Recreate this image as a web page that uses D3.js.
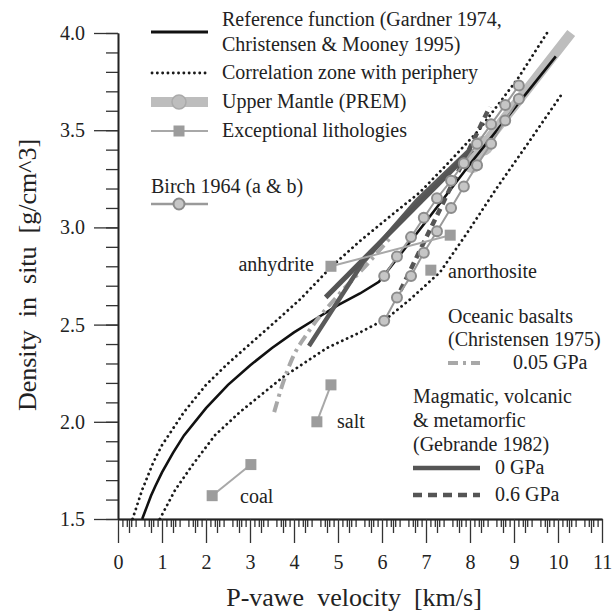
<!DOCTYPE html>
<html>
<head>
<meta charset="utf-8">
<script src="https://cdn.jsdelivr.net/npm/d3@7"></script>
<style>
  body { margin: 0; background: #fff; }
  svg text { font-family: "Liberation Serif", "Times New Roman", "DejaVu Serif", serif; fill: #222; }
</style>
</head>
<body>
<div id="chart"></div>
<script>
// reference function (Gardner 1974 / Christensen & Mooney 1995)
const refV = [0.55, 0.65, 0.75, 0.85, 1, 1.25, 1.5, 2, 2.5, 3, 3.5, 4, 4.5, 5, 5.5, 5.93, 7, 8.05, 9.95];
const refD = [1.5, 1.56, 1.62, 1.67, 1.74, 1.84, 1.93, 2.07, 2.19, 2.29, 2.38, 2.46, 2.53, 2.6, 2.66, 2.72, 3.03, 3.34, 3.88];

// correlation zone, upper and lower limit
const upV = [0.33, 0.55, 0.8, 1.0, 1.5, 2, 2.5, 3, 3.5, 4.14, 4.86, 5.5, 6.2, 6.86, 7.5, 8.2, 9.1, 9.75];
const upD = [1.5, 1.65, 1.79, 1.88, 2.05, 2.19, 2.3, 2.4, 2.5, 2.63, 2.8, 2.93, 3.06, 3.18, 3.33, 3.5, 3.77, 4.0];
const loV = [0.95, 1.3, 1.7, 2.2, 2.77, 3.75, 4.75, 5.5, 6.1, 6.64, 7.32, 7.93, 8.6, 9.34, 10.1];
const loD = [1.5, 1.65, 1.78, 1.93, 2.05, 2.23, 2.38, 2.46, 2.53, 2.63, 2.77, 2.97, 3.2, 3.44, 3.69];

// upper mantle PREM
const premV = [8.05, 8.3, 10.3];
const premD = [3.33, 3.42, 4.0];
const premMarks = [0, 1];

// Birch 1964 (a & b)
const birchAV = [6.05, 6.34, 6.66, 6.95, 7.25, 7.57, 7.86, 8.16, 8.48, 8.8, 9.11];
const birchAD = [2.75, 2.85, 2.95, 3.05, 3.15, 3.24, 3.33, 3.43, 3.53, 3.63, 3.73];
const birchBV = [6.05, 6.34, 6.66, 6.95, 7.25, 7.57, 7.86, 8.16, 8.48, 8.8, 9.11];
const birchBD = [2.52, 2.64, 2.75, 2.87, 2.98, 3.1, 3.21, 3.32, 3.43, 3.55, 3.66];

// exceptional lithologies
const lithNames = ["anhydrite", "anorthosite", "salt", "coal"];
const lithV = [[4.84, 7.55], [7.11], [4.52, 4.84], [2.14, 3.02]];
const lithD = [[2.80, 2.96], [2.78], [2.0, 2.19], [1.62, 1.78]];

// oceanic basalts (Christensen 1975), 0.05 GPa
const ocV = [3.55, 3.75, 3.95, 4.35, 5.0, 5.7, 6.2];
const ocD = [2.05, 2.2, 2.32, 2.47, 2.65, 2.82, 2.95];

// Gebrande 1982
const geb0aV = [4.72, 8.05];
const geb0aD = [2.64, 3.40];
const geb0bV = [4.34, 5.57, 6.8, 8.0];
const geb0bD = [2.39, 2.82, 3.14, 3.40];
const geb6V = [6.3, 8.45];
const geb6D = [2.62, 3.62];

const xMajor = d3.range(0, 12);
const yMajor = [1.5, 2.0, 2.5, 3.0, 3.5, 4.0];

const svg = d3.select("#chart").append("svg").attr("width", 616).attr("height", 615);

const x = d3.scaleLinear().domain([0, 11]).range([118, 602]);
const y = d3.scaleLinear().domain([1.5, 4.0]).range([519, 33]);

const line = d3.line().x(d => x(d[0])).y(d => y(d[1]));
const zip = (a, b) => a.map((v, i) => [v, b[i]]);

// axes
const xMinor = d3.range(0, 111).map(d => d / 10).filter(d => Math.abs(d * 2 - Math.round(d * 2)) > 1e-6);
const xHalf = d3.range(0, 22).map(d => d + 0.5).map(d => d / 2).filter(d => d <= 11 && d % 1 !== 0);
svg.append("g").attr("transform", "translate(0,519)")
  .call(d3.axisBottom(x).tickValues(xMinor).tickSize(8).tickSizeOuter(0).tickFormat(""));
svg.append("g").attr("transform", "translate(0,519)")
  .call(d3.axisBottom(x).tickValues(xHalf).tickSize(14).tickSizeOuter(0).tickFormat(""));
const gx = svg.append("g").attr("transform", "translate(0,519)")
  .call(d3.axisBottom(x).tickValues(xMajor).tickSize(24).tickSizeOuter(0).tickPadding(12).tickFormat(d3.format("d")));

const yMinor = d3.range(15, 41).map(d => d / 10);
svg.append("g").attr("transform", "translate(118,0)")
  .call(d3.axisLeft(y).tickValues(yMinor).tickSize(12).tickSizeOuter(0).tickFormat(""));
const gy = svg.append("g").attr("transform", "translate(118,0)")
  .call(d3.axisLeft(y).tickValues(yMajor).tickSize(24).tickSizeOuter(0).tickPadding(9).tickFormat(d3.format(".1f")));

svg.selectAll(".domain").attr("stroke", "#222").attr("stroke-width", 1.6);
svg.selectAll(".tick line").attr("stroke", "#333").attr("stroke-width", 1.3);
gx.selectAll("text").attr("font-size", 20).attr("fill", "#222");
gy.selectAll("text").attr("font-size", 20).attr("fill", "#222");

svg.append("text").attr("x", 354).attr("y", 606).attr("text-anchor", "middle")
  .attr("font-size", 26).attr("xml:space", "preserve").text("P-vawe  velocity  [km/s]");
svg.append("text").attr("transform", "translate(36,275) rotate(-90)").attr("text-anchor", "middle")
  .attr("font-size", 26).attr("xml:space", "preserve").text("Density  in  situ  [g/cm^3]");

// correlation zone (dotted)
const dotted = g => g.attr("fill", "none").attr("stroke", "#1a1a1a").attr("stroke-width", 2.8)
  .attr("stroke-dasharray", "0.1 5.2").attr("stroke-linecap", "round");
svg.append("path").attr("d", line(zip(upV, upD))).call(dotted);
svg.append("path").attr("d", line(zip(loV, loD))).call(dotted);

// PREM
svg.append("path").attr("d", line(zip(premV, premD)))
  .attr("fill", "none").attr("stroke", "#bdbdbd").attr("stroke-width", 10).attr("stroke-linecap", "butt");
svg.selectAll(".prem").data(premMarks).enter().append("circle")
  .attr("cx", i => x(premV[i])).attr("cy", i => y(premD[i])).attr("r", 10).attr("fill", "#bdbdbd");

// reference function
svg.append("path").attr("d", line(zip(refV, refD)))
  .attr("fill", "none").attr("stroke", "#111").attr("stroke-width", 2.6);

// oceanic basalts
svg.append("path").attr("d", d3.line().curve(d3.curveMonotoneX).x(d => x(d[0])).y(d => y(d[1]))(zip(ocV, ocD)))
  .attr("fill", "none").attr("stroke", "#a8a8a8").attr("stroke-width", 4).attr("stroke-dasharray", "11 5 3 5");

// Gebrande
svg.append("path").attr("d", line(zip(geb0bV, geb0bD)))
  .attr("fill", "none").attr("stroke", "#5a5a5a").attr("stroke-width", 4.5);
svg.append("path").attr("d", line(zip(geb0aV, geb0aD)))
  .attr("fill", "none").attr("stroke", "#555").attr("stroke-width", 5);
svg.append("path").attr("d", line(zip(geb6V, geb6D)))
  .attr("fill", "none").attr("stroke", "#555").attr("stroke-width", 4.5).attr("stroke-dasharray", "7 5");

// Birch
[[birchAV, birchAD], [birchBV, birchBD]].forEach(([vs, ds]) => {
  const pts = zip(vs, ds);
  svg.append("path").attr("d", line(pts)).attr("fill", "none").attr("stroke", "#9a9a9a").attr("stroke-width", 2);
  svg.append("g").selectAll("circle").data(pts).enter().append("circle")
    .attr("cx", d => x(d[0])).attr("cy", d => y(d[1])).attr("r", 5)
    .attr("fill", "#c6c6c6").attr("stroke", "#8c8c8c").attr("stroke-width", 2);
});

// exceptional lithologies
lithNames.forEach((n, i) => {
  const pts = zip(lithV[i], lithD[i]);
  if (pts.length > 1)
    svg.append("path").attr("d", line(pts)).attr("fill", "none").attr("stroke", "#a8a8a8").attr("stroke-width", 2);
  svg.append("g").selectAll("rect").data(pts).enter().append("rect")
    .attr("x", d => x(d[0]) - 5.5).attr("y", d => y(d[1]) - 5.5).attr("width", 11).attr("height", 11)
    .attr("fill", "#9c9c9c");
});
const lithLabels = [
  { t: "anhydrite", x: 314, y: 271, a: "end" },
  { t: "anorthosite", x: 448, y: 278, a: "start" },
  { t: "salt", x: 337, y: 428, a: "start" },
  { t: "coal", x: 240, y: 503, a: "start" }
];
svg.selectAll(".lith").data(lithLabels).enter().append("text")
  .attr("x", d => d.x).attr("y", d => d.y).attr("text-anchor", d => d.a).attr("font-size", 20).text(d => d.t);

// legend, top-left
const fs = 20;
const lg = svg.append("g");
lg.append("line").attr("x1", 151).attr("x2", 208).attr("y1", 32).attr("y2", 32).attr("stroke", "#111").attr("stroke-width", 3);
lg.append("text").attr("x", 222).attr("y", 26).attr("font-size", fs).text("Reference function (Gardner 1974,");
lg.append("text").attr("x", 222).attr("y", 51).attr("font-size", fs).text("Christensen & Mooney 1995)");
lg.append("line").attr("x1", 152).attr("x2", 208).attr("y1", 73).attr("y2", 73).call(dotted);
lg.append("text").attr("x", 222).attr("y", 79).attr("font-size", fs).text("Correlation zone with periphery");
lg.append("line").attr("x1", 151).attr("x2", 208).attr("y1", 102).attr("y2", 102).attr("stroke", "#bdbdbd").attr("stroke-width", 10);
lg.append("circle").attr("cx", 179).attr("cy", 102).attr("r", 7).attr("fill", "#bdbdbd").attr("stroke", "#aaa").attr("stroke-width", 1.5);
lg.append("text").attr("x", 222).attr("y", 108).attr("font-size", fs).text("Upper Mantle (PREM)");
lg.append("line").attr("x1", 151).attr("x2", 208).attr("y1", 131).attr("y2", 131).attr("stroke", "#a8a8a8").attr("stroke-width", 2);
lg.append("rect").attr("x", 173.5).attr("y", 125.5).attr("width", 11).attr("height", 11).attr("fill", "#9c9c9c");
lg.append("text").attr("x", 222).attr("y", 137).attr("font-size", fs).text("Exceptional lithologies");
lg.append("text").attr("x", 151).attr("y", 193).attr("font-size", fs).text("Birch 1964 (a & b)");
lg.append("line").attr("x1", 151).attr("x2", 208).attr("y1", 204).attr("y2", 204).attr("stroke", "#9a9a9a").attr("stroke-width", 2.5);
lg.append("circle").attr("cx", 179).attr("cy", 204).attr("r", 5.5).attr("fill", "#c6c6c6").attr("stroke", "#8c8c8c").attr("stroke-width", 2);

// legend, bottom-right
lg.append("text").attr("x", 448).attr("y", 323).attr("font-size", fs).text("Oceanic basalts");
lg.append("text").attr("x", 448).attr("y", 346).attr("font-size", fs).text("(Christensen 1975)");
lg.append("line").attr("x1", 448).attr("x2", 480).attr("y1", 363).attr("y2", 363)
  .attr("stroke", "#a8a8a8").attr("stroke-width", 4).attr("stroke-dasharray", "10 5 3 5");
lg.append("text").attr("x", 513).attr("y", 369).attr("font-size", fs).text("0.05 GPa");
lg.append("text").attr("x", 413).attr("y", 403).attr("font-size", fs).text("Magmatic, volcanic");
lg.append("text").attr("x", 413).attr("y", 427).attr("font-size", fs).text("& metamorfic");
lg.append("text").attr("x", 413).attr("y", 451).attr("font-size", fs).text("(Gebrande 1982)");
lg.append("line").attr("x1", 413).attr("x2", 480).attr("y1", 468).attr("y2", 468).attr("stroke", "#555").attr("stroke-width", 4.5);
lg.append("text").attr("x", 495).attr("y", 474).attr("font-size", fs).text("0 GPa");
lg.append("line").attr("x1", 413).attr("x2", 480).attr("y1", 495).attr("y2", 495).attr("stroke", "#555").attr("stroke-width", 4.5).attr("stroke-dasharray", "9 6");
lg.append("text").attr("x", 495).attr("y", 501).attr("font-size", fs).text("0.6 GPa");
</script>
</body>
</html>
